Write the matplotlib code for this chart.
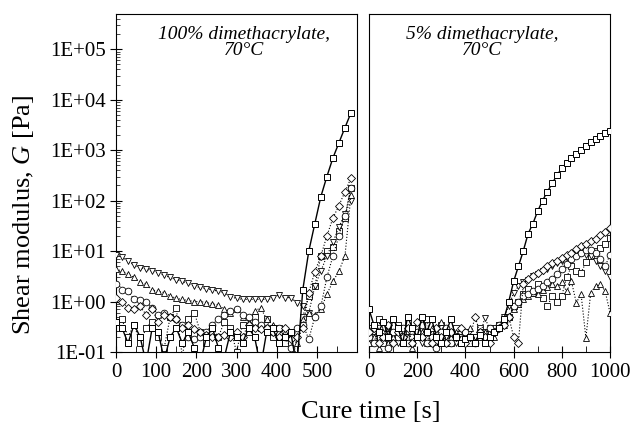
import matplotlib
matplotlib.use('Agg')
import matplotlib.pyplot as plt
from matplotlib.ticker import MultipleLocator, LogLocator, FixedLocator, NullFormatter

plt.rcParams.update({'font.family': 'Liberation Serif', 'font.size': 15,
                     'mathtext.fontset': 'custom',
                     'mathtext.rm': 'Liberation Serif',
                     'mathtext.it': 'Liberation Serif:italic'})

# ── 100% dimethacrylate, 70°C ──
t_left = [0, 15, 30, 45, 60, 75, 90, 105, 120, 135, 150, 165, 180, 195, 210, 225, 240, 255, 270, 285,
          300, 315, 330, 345, 360, 375, 390, 405, 420, 435, 450, 465, 480, 495, 510, 525, 540, 555, 570, 585]
left_sq1 = [0.4, 0.3, 0.15, 0.35, 0.2, 0.06, 0.3, 0.25, 0.07, 0.2, 0.3, 0.15, 0.25, 0.12, 0.06, 0.2, 0.3, 0.12, 0.08, 0.25,
            0.2, 0.15, 0.3, 0.2, 0.05, 0.25, 0.3, 0.15, 0.2, 0.25, 0.05, 1.7, 10, 35, 120, 300, 700, 1400, 2800, 5500]
left_sq2 = [0.3, 0.45, 0.2, 0.35, 0.15, 0.3, 0.4, 0.2, 0.12, 0.5, 0.75, 0.08, 0.45, 0.6, 0.25, 0.15, 0.3, 0.2, 0.4, 0.3,
            0.1, 0.35, 0.25, 0.5, 0.3, 0.45, 0.2, 0.3, 0.15, 0.2, 0.08, 0.5, 1.3, 2, 8, 10, 12, 25, 45, 180]
left_dn = [8.5, 7.5, 6.3, 5.3, 4.7, 4.4, 4.0, 3.7, 3.3, 3.0, 2.7, 2.5, 2.3, 2.0, 1.9, 1.8, 1.7, 1.6, 1.5, 1.25,
           1.15, 1.1, 1.1, 1.1, 1.1, 1.1, 1.15, 1.35, 1.2, 1.2, 0.95, 0.8, 0.6, 2, 4, 8, 15, 30, 55, 100]
left_up = [4.4, 4.0, 3.5, 3.0, 2.4, 2.2, 1.7, 1.6, 1.5, 1.3, 1.15, 1.1, 1.05, 1.0, 1.0, 0.95, 0.9, 0.85, 0.7, 0.6,
           0.7, 0.5, 0.4, 0.65, 0.75, 0.45, 0.35, 0.3, 0.25, 0.2, 0.15, 0.45, 0.6, 0.55, 0.7, 1.4, 2.5, 4, 8, 130]
left_ci = [2.2, 1.7, 1.6, 1.1, 1.05, 1.0, 0.75, 0.55, 0.6, 0.5, 0.45, 0.35, 0.2, 0.18, 0.2, 0.25, 0.35, 0.45, 0.55, 0.65,
           0.7, 0.55, 0.5, 0.4, 0.35, 0.3, 0.25, 0.3, 0.2, 0.12, 0.3, 0.35, 0.18, 0.5, 0.8, 3, 8, 20, 50, 180]
left_di = [1.2, 1.0, 0.75, 0.7, 0.8, 0.55, 0.7, 0.4, 0.55, 0.5, 0.45, 0.3, 0.35, 0.28, 0.25, 0.22, 0.2, 0.2, 0.22, 0.2,
           0.25, 0.2, 0.35, 0.3, 0.28, 0.3, 0.25, 0.2, 0.3, 0.18, 0.2, 0.3, 1.5, 3.9, 8, 20, 45, 80, 150, 280]

# ── 5% dimethacrylate, 70°C ──
t_right = [0, 20, 40, 60, 80, 100, 120, 140, 160, 180, 200, 220, 240, 260, 280, 300, 320, 340, 360, 380,
           400, 420, 440, 460, 480, 500, 520, 540, 560, 580, 600, 620, 640, 660, 680, 700, 720, 740, 760, 780,
           800, 820, 840, 860, 880, 900, 920, 940, 960, 980, 1000]
right_sq1 = [0.7, 0.35, 0.25, 0.4, 0.2, 0.45, 0.3, 0.15, 0.5, 0.3, 0.2, 0.5, 0.25, 0.45, 0.2, 0.15, 0.25, 0.45, 0.2, 0.15,
             0.18, 0.2, 0.15, 0.22, 0.15, 0.2, 0.25, 0.3, 0.45, 1.0, 2.5, 5, 10, 22, 35, 62, 100, 150, 220, 320,
             440, 560, 690, 850, 1010, 1230, 1480, 1700, 1950, 2180, 2380]
right_sq2 = [0.3, 0.2, 0.45, 0.15, 0.3, 0.2, 0.35, 0.25, 0.4, 0.15, 0.3, 0.2, 0.45, 0.15, 0.25, 0.35, 0.2, 0.15, 0.3, 0.2,
             0.25, 0.15, 0.2, 0.3, 0.25, 0.2, 0.3, 0.35, 0.4, 0.5, 0.8, 1.0, 1.4, 1.8, 1.5, 2.2, 1.2, 0.8, 1.3, 1.0,
             1.3, 3.0, 5, 4, 3.7, 6, 8, 10, 11.7, 14, 18]
right_ci = [0.2, 0.15, 0.3, 0.2, 0.12, 0.25, 0.2, 0.3, 0.15, 0.2, 0.25, 0.35, 0.15, 0.2, 0.12, 0.25, 0.3, 0.15, 0.2, 0.18,
            0.25, 0.2, 0.15, 0.25, 0.2, 0.3, 0.25, 0.35, 0.4, 0.5, 0.8, 1.0, 1.3, 1.4, 1.6, 1.8, 2.0, 2.4, 2.8, 3.5,
            4.4, 5.5, 6.9, 8, 9.3, 10.5, 10.7, 9, 7, 5, 8.5]
right_di = [0.25, 0.3, 0.15, 0.2, 0.35, 0.15, 0.25, 0.2, 0.3, 0.15, 0.4, 0.2, 0.25, 0.15, 0.3, 0.2, 0.15, 0.25, 0.2, 0.3,
            0.15, 0.2, 0.5, 0.25, 0.2, 0.15, 0.25, 0.3, 0.35, 0.5, 0.2, 0.15, 2.2, 2.8, 3.2, 3.7, 4.2, 5, 5.7, 6.3,
            7.3, 8.3, 9.3, 11, 12.6, 14, 16, 17, 21, 24, 29]
right_dn = [0.2, 0.15, 0.25, 0.2, 0.3, 0.2, 0.15, 0.25, 0.2, 0.3, 0.2, 0.15, 0.25, 0.2, 0.15, 0.3, 0.2, 0.25, 0.15, 0.2,
            0.25, 0.2, 0.2, 0.2, 0.47, 0.3, 0.25, 0.35, 0.5, 0.8, 1.5, 2.0, 2.4, 2.7, 3.2, 3.5, 4.0, 4.4, 5.0, 5.9,
            6.5, 7.4, 8.2, 9.3, 9.3, 8.5, 8.0, 6.5, 5.0, 4.0, 3.0]
right_up = [0.15, 0.2, 0.12, 0.25, 0.15, 0.2, 0.3, 0.15, 0.2, 0.12, 0.2, 0.25, 0.15, 0.3, 0.2, 0.4, 0.15, 0.2, 0.25, 0.15,
            0.2, 0.3, 0.15, 0.2, 0.25, 0.3, 0.2, 0.3, 0.35, 0.5, 0.7, 0.9, 1.1, 1.3, 1.5, 1.4, 1.7, 1.9, 2.2, 2.0,
            2.4, 1.6, 2.5, 0.95, 1.4, 0.19, 1.5, 2.0, 2.2, 1.6, 0.6]

y_ticks = [1e-1, 1e0, 1e1, 1e2, 1e3, 1e4, 1e5]
y_labels = ['1E-01', '1E+00', '1E+01', '1E+02', '1E+03', '1E+04', '1E+05']

fig = plt.figure(figsize=(6.31, 4.29), dpi=100)
axL = fig.add_axes([116 / 631, 1 - 352 / 429, 241 / 631, 338 / 429])
axR = fig.add_axes([369 / 631, 1 - 352 / 429, 241 / 631, 338 / 429])

def draw(ax, t, sq1, others):
    for y, m, ms, z in others:
        ax.plot(t, y, color='black', linestyle=':', linewidth=0.8, marker=m,
                markersize=ms, mfc='white', mec='black', mew=0.6, zorder=z)
    ax.plot(t, sq1, color='black', linestyle='-', linewidth=1.0, marker='s',
            markersize=4.6, mfc='white', mec='black', mew=0.7, zorder=5)

draw(axL, t_left, left_sq1, [(left_sq2, 's', 4.6, 2), (left_dn, 'v', 5, 3), (left_up, '^', 5, 3),
                             (left_ci, 'o', 4.8, 3), (left_di, 'D', 4, 4)])
draw(axR, t_right, right_sq1, [(right_sq2, 's', 4.6, 2), (right_dn, 'v', 5, 3), (right_up, '^', 5, 3),
                               (right_ci, 'o', 4.8, 3), (right_di, 'D', 4, 4)])

for ax in (axL, axR):
    ax.set_yscale('log')
    ax.set_ylim(0.1, 5e5)
    for s in ax.spines.values():
        s.set_linewidth(0.8)
    ax.tick_params(axis='x', which='major', direction='inout', length=8, width=0.8, pad=4)
    ax.tick_params(axis='x', which='minor', direction='in', length=4, width=0.6)

axL.set_xlim(0, 600)
axL.xaxis.set_major_locator(FixedLocator([0, 100, 200, 300, 400, 500]))
axL.xaxis.set_minor_locator(MultipleLocator(50))
axR.set_xlim(0, 1000)
axR.xaxis.set_major_locator(MultipleLocator(200))
axR.xaxis.set_minor_locator(MultipleLocator(100))

axL.set_yticks(y_ticks)
axL.set_yticklabels(y_labels)
axL.yaxis.set_minor_locator(LogLocator(base=10, subs=range(2, 10)))
axL.yaxis.set_minor_formatter(NullFormatter())
axL.tick_params(axis='y', which='major', direction='inout', length=8, width=0.8, pad=3)
axL.tick_params(axis='y', which='minor', direction='in', length=3, width=0.5)
axR.tick_params(axis='y', which='both', left=False, labelleft=False)

axL.text(0.53, 0.965, '100% dimethacrylate,\n70\u00b0C', transform=axL.transAxes,
         ha='center', va='top', fontsize=14, style='italic', linespacing=0.95)
axR.text(0.47, 0.965, '5% dimethacrylate,\n70\u00b0C', transform=axR.transAxes,
         ha='center', va='top', fontsize=14, style='italic', linespacing=0.95)

fig.text(24 / 631, 1 - 215 / 429, 'Shear modulus, $G$ [Pa]', rotation=90,
         ha='center', va='center', fontsize=19)
fig.text(371 / 631, 1 - 412 / 429, 'Cure time [s]', ha='center', va='center', fontsize=19)

fig.savefig('out.png', dpi=100)
